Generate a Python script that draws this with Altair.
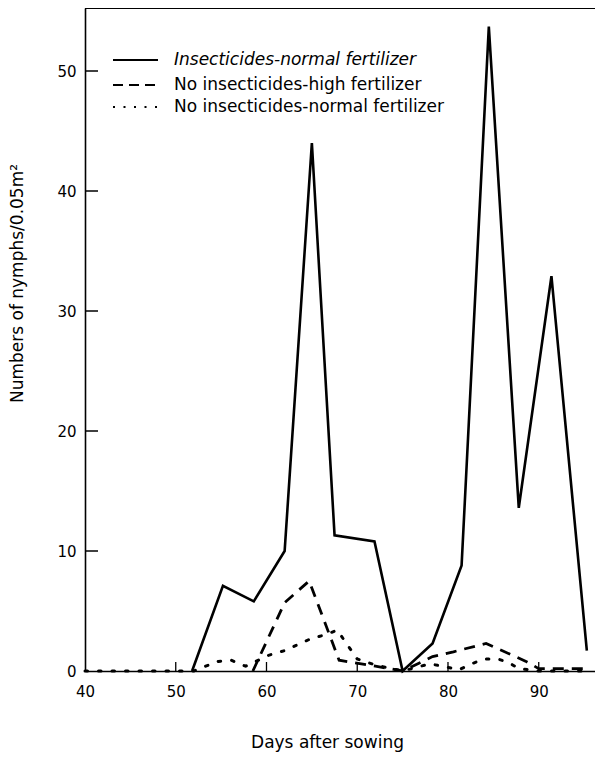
import altair as alt
import pandas as pd

# Series: Insecticides-normal fertilizer (solid)
days_a = [51.8, 55.2, 58.6, 62.0, 65.0, 67.5, 71.9, 75.0, 78.3, 81.5, 84.5, 87.8, 91.4, 95.3]
vals_a = [0.0, 7.1, 5.8, 10.0, 44.0, 11.3, 10.8, 0.0, 2.3, 8.8, 53.7, 13.6, 32.9, 1.7]

# Series: No insecticides-high fertilizer (dashed)
days_b = [58.5, 62.0, 64.7, 68.0, 72.0, 75.0, 78.3, 80.6, 84.2, 88.6, 90.0, 95.3]
vals_b = [0.0, 5.7, 7.5, 0.9, 0.4, 0.0, 1.2, 1.6, 2.3, 0.8, 0.2, 0.2]

# Series: No insecticides-normal fertilizer (dotted)
days_c = [40.0, 52.0, 53.3, 54.7, 56.1, 57.7, 60.2, 62.0, 64.9, 66.4, 67.8, 70.0, 72.0, 75.0,
          78.0, 80.0, 81.2, 82.6, 84.0, 85.5, 86.7, 87.8, 90.0, 95.3]
vals_c = [0.0, 0.0, 0.4, 0.8, 0.9, 0.4, 1.3, 1.7, 2.7, 3.0, 3.4, 1.0, 0.5, 0.0,
          0.6, 0.3, 0.1, 0.6, 1.0, 1.0, 0.7, 0.2, 0.0, 0.0]

series_names = [
    "Insecticides-normal fertilizer",
    "No insecticides-high fertilizer",
    "No insecticides-normal fertilizer",
]

x_ticks = [40, 50, 60, 70, 80, 90]
y_ticks = [0, 10, 20, 30, 40, 50]

FONT = "DejaVu Sans"
W, H = 510, 663
XDOM = [40, 96.2]
YDOM = [0, 55.25]

df_a = pd.DataFrame({"day": days_a, "n": vals_a})
df_b = pd.DataFrame({"day": days_b, "n": vals_b})
df_c = pd.DataFrame({"day": days_c, "n": vals_c})

xscale = alt.Scale(domain=XDOM, nice=False, zero=False)
yscale = alt.Scale(domain=YDOM, nice=False)

x_enc = alt.X(
    "day:Q", scale=xscale,
    axis=alt.Axis(
        title="Days after sowing", values=x_ticks, tickSize=0, grid=False, labelFlush=False,
        labelFont=FONT, labelFontSize=15, labelColor="black", labelPadding=13,
        titleFont=FONT, titleFontSize=17, titleFontWeight="normal", titleColor="black",
        titlePadding=35, titleX=242, domainColor="black", domainWidth=1.6,
    ),
)
y_enc = alt.Y(
    "n:Q", scale=yscale,
    axis=alt.Axis(
        title="Numbers of nymphs/0.05m²", values=y_ticks, tickSize=0, grid=False, labelFlush=False,
        labelFont=FONT, labelFontSize=15, labelColor="black", labelPadding=9,
        titleFont=FONT, titleFontSize=17, titleFontWeight="normal", titleColor="black",
        titlePadding=30, titleY=275, domainColor="black", domainWidth=1.6,
    ),
)

line_a = alt.Chart(df_a).mark_line(color="black", strokeWidth=2.6).encode(x=x_enc, y=y_enc)
line_b = alt.Chart(df_b).mark_line(color="black", strokeWidth=2.8, strokeDash=[11, 8]).encode(
    x=alt.X("day:Q", scale=xscale), y=alt.Y("n:Q", scale=yscale))
line_c = alt.Chart(df_c).mark_line(color="black", strokeWidth=3, strokeDash=[2.5, 11],
                                   strokeCap="round").encode(
    x=alt.X("day:Q", scale=xscale), y=alt.Y("n:Q", scale=yscale))

# inward ticks
yt = pd.DataFrame({"v": y_ticks[1:]})
ytick_layer = alt.Chart(yt).mark_rule(color="black", strokeWidth=1.5).encode(
    y=alt.Y("v:Q", scale=yscale), x=alt.value(0), x2=alt.value(13))
xt = pd.DataFrame({"v": x_ticks[1:]})
xtick_layer = alt.Chart(xt).mark_rule(color="black", strokeWidth=1.3).encode(
    x=alt.X("v:Q", scale=xscale), y=alt.value(H), y2=alt.value(H - 9))

# top frame line
top_line = alt.Chart(pd.DataFrame({"a": [0]})).mark_rule(color="black", strokeWidth=2).encode(
    x=alt.value(0), x2=alt.value(W), y=alt.value(0))

# legend
leg_y = [52, 77, 99]
leg_dash = [[1, 0], [10, 6], [2, 8.5]]
leg_layers = []
for i, name in enumerate(series_names):
    r = alt.Chart(pd.DataFrame({"a": [0]})).mark_rule(
        color="black", strokeWidth=1.8, strokeDash=leg_dash[i]).encode(
        x=alt.value(28), x2=alt.value(73), y=alt.value(leg_y[i]))
    t = alt.Chart(pd.DataFrame({"label": [name]})).mark_text(
        align="left", baseline="middle", font=FONT, fontSize=17, color="black",
        fontStyle="italic" if i == 0 else "normal").encode(
        x=alt.value(89), y=alt.value(leg_y[i]), text="label:N")
    leg_layers += [r, t]

chart = alt.layer(
    line_a, line_b, line_c, ytick_layer, xtick_layer, top_line, *leg_layers
).properties(
    width=W, height=H,
    autosize=alt.AutoSizeParams(type="none"),
    padding={"left": 77, "top": 0, "right": 0, "bottom": 84},
).configure_view(stroke=None).configure(background="white")

chart.save("out.html", embed_options={"renderer": "svg", "actions": False})
